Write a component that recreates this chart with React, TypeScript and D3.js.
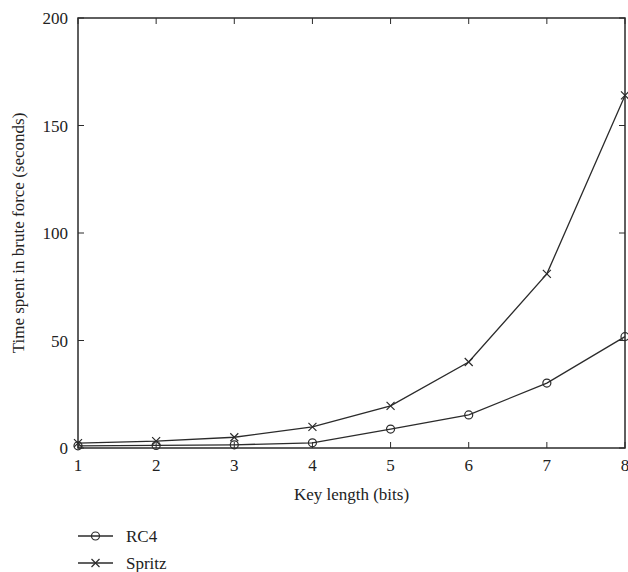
import React from 'react';
import * as d3 from 'd3';

const keyLengths = [1, 2, 3, 4, 5, 6, 7, 8];
const rc4 = [1, 1.2, 1.5, 2.4, 8.8, 15.4, 30.2, 51.8];
const spritz = [2.3, 3.2, 5, 9.8, 19.6, 40, 81, 164];
const yTicks = [0, 50, 100, 150, 200];

const W = 628, H = 572;
const left = 78, right = 625, top = 18, bottom = 448;
const font = '"Liberation Serif", "DejaVu Serif", serif';
const ink = '#2b2b2b';

const App = () => {
  const x = d3.scaleLinear().domain([1, 8]).range([left, right]);
  const y = d3.scaleLinear().domain([0, 200]).range([bottom, top]);

  const line = d3.line<number>()
    .x((d, i) => x(keyLengths[i]))
    .y(d => y(d));

  const cross = (cx, cy, k) => (
    <path key={k} d={`M${cx - 4},${cy - 4}L${cx + 4},${cy + 4}M${cx - 4},${cy + 4}L${cx + 4},${cy - 4}`}
      stroke={ink} strokeWidth={1.2} fill="none" />
  );
  const circ = (cx, cy, k) => (
    <circle key={k} cx={cx} cy={cy} r={4} fill="none" stroke={ink} strokeWidth={1.2} />
  );

  return (
    <svg width={W} height={H} style={{ position: 'absolute', left: 0, top: 0 }}>
      <rect width={W} height={H} fill="#fff" />
      {/* frame */}
      <rect x={left} y={top} width={right - left} height={bottom - top}
        fill="none" stroke={ink} strokeWidth={1.5} />
      {/* x ticks */}
      {keyLengths.map(k => (
        <g key={'xt' + k}>
          <line x1={x(k)} x2={x(k)} y1={bottom} y2={bottom - 6} stroke={ink} />
          <line x1={x(k)} x2={x(k)} y1={top} y2={top + 6} stroke={ink} />
          <text x={x(k)} y={bottom + 23} textAnchor="middle" fontFamily={font} fontSize={17} fill="#222">{k}</text>
        </g>
      ))}
      {yTicks.map(t => (
        <g key={'yt' + t}>
          <line x1={left} x2={left + 6} y1={y(t)} y2={y(t)} stroke={ink} />
          <line x1={right} x2={right - 6} y1={y(t)} y2={y(t)} stroke={ink} />
          <text x={left - 10} y={y(t) + 6} textAnchor="end" fontFamily={font} fontSize={17} fill="#222">{t}</text>
        </g>
      ))}
      {/* series */}
      <path d={line(rc4) || ''} fill="none" stroke={ink} strokeWidth={1.3} />
      <path d={line(spritz) || ''} fill="none" stroke={ink} strokeWidth={1.3} />
      {rc4.map((v, i) => circ(x(keyLengths[i]), y(v), 'c' + i))}
      {spritz.map((v, i) => cross(x(keyLengths[i]), y(v), 'x' + i))}
      {/* axis labels */}
      <text x={(left + right) / 2} y={500} textAnchor="middle" fontFamily={font} fontSize={17} fill="#222">Key length (bits)</text>
      <text transform={`translate(24,${(top + bottom) / 2}) rotate(-90)`} textAnchor="middle"
        fontFamily={font} fontSize={17} fill="#222">Time spent in brute force (seconds)</text>
      {/* legend */}
      <line x1={78} x2={113} y1={536} y2={536} stroke={ink} strokeWidth={1.3} />
      {circ(95.5, 536, 'lc')}
      <text x={126} y={542} fontFamily={font} fontSize={17} fill="#222">RC4</text>
      <line x1={78} x2={113} y1={563} y2={563} stroke={ink} strokeWidth={1.3} />
      {cross(95.5, 563, 'lx')}
      <text x={126} y={569} fontFamily={font} fontSize={17} fill="#222">Spritz</text>
    </svg>
  );
};

export default App;
